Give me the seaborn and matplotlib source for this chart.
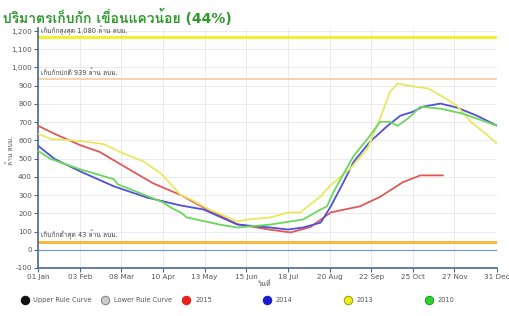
import matplotlib
matplotlib.use("Agg")
import matplotlib.pyplot as plt
from matplotlib import font_manager, ft2font
from matplotlib.lines import Line2D
from matplotlib.ticker import FuncFormatter
import seaborn as sns
import pandas as pd

sns.set_theme(style="white")

# find an installed family that has Thai glyphs
thai_family = None
for f in font_manager.fontManager.ttflist:
    try:
        if 0x0E1B in ft2font.FT2Font(f.fname).get_charmap():
            thai_family = f.name
            break
    except Exception:
        pass
families = ["DejaVu Sans"] + ([thai_family] if thai_family else [])
plt.rcParams["font.family"] = families

TITLE = "ปริมาตรเก็บกัก เขื่อนแควน้อย (44%)"
TICK_DAYS = [0, 33, 66, 99, 132, 165, 198, 231, 264, 297, 330, 364]
TICK_LABELS = ["01 Jan", "03 Feb", "08 Mar", "10 Apr", "13 May", "15 Jun",
               "18 Jul", "20 Aug", "22 Sep", "25 Oct", "27 Nov", "31 Dec"]

# reference levels (million m3)
MAX_LEVEL = 1170
NORMAL_LEVEL = 939
MIN_LEVEL = 43

days_2015 = [0, 13, 33, 49, 65, 91, 113, 131, 158, 184, 200, 216, 232, 255, 271, 289, 303, 321]
vals_2015 = [680, 636, 575, 536, 470, 365, 300, 232, 140, 110, 95, 125, 205, 238, 290, 370, 408, 408]

days_2014 = [0, 13, 33, 60, 86, 113, 131, 158, 184, 198, 210, 224, 232, 242, 250, 263, 277,
             287, 297, 305, 319, 332, 348, 364]
vals_2014 = [570, 498, 431, 348, 287, 243, 221, 138, 122, 111, 122, 149, 238, 370, 481, 592, 680,
             735, 757, 785, 802, 780, 735, 680]

days_2013 = [0, 10, 33, 52, 65, 83, 97, 103, 113, 121, 136, 158, 166, 184, 198, 208, 216, 224,
             232, 247, 261, 271, 279, 285, 297, 309, 319, 332, 343, 353, 364]
vals_2013 = [636, 608, 597, 580, 536, 486, 420, 376, 300, 276, 220, 155, 166, 177, 204, 205, 250, 293,
             355, 442, 553, 719, 868, 912, 896, 885, 846, 790, 702, 647, 580]

days_2010 = [0, 10, 33, 60, 63, 73, 99, 105, 113, 118, 144, 158, 184, 210, 224, 229, 234, 250,
             263, 271, 279, 285, 293, 303, 319, 337, 364]
vals_2010 = [542, 498, 442, 387, 359, 332, 260, 232, 204, 177, 138, 122, 138, 166, 221, 238, 315, 514,
             625, 702, 702, 680, 719, 785, 774, 746, 680]

SERIES = ["2015", "2014", "2013", "2010"]
COLORS = {"2015": "#e05858", "2014": "#5050d8", "2013": "#e8e860", "2010": "#6ad85a"}

frames = []
for name, d, v in [("2015", days_2015, vals_2015), ("2014", days_2014, vals_2014),
                   ("2013", days_2013, vals_2013), ("2010", days_2010, vals_2010)]:
    frames.append(pd.DataFrame({"day": d, "volume": v, "year": name}))
df = pd.concat(frames, ignore_index=True)

fig = plt.figure(figsize=(5.09, 3.16), dpi=100)
ax = fig.add_axes([0.075, 0.152, 0.902, 0.759])

# reference level lines
ax.axhline(MAX_LEVEL, color="#f2f020", lw=2.0, zorder=1)
ax.axhline(NORMAL_LEVEL, color="#f8c8a0", lw=1.2, zorder=1)
ax.axhline(MIN_LEVEL, color="#f5b840", lw=2.2, zorder=1)
ax.axhline(0, color="#7a9cc0", lw=0.9, zorder=1)

sns.lineplot(data=df, x="day", y="volume", hue="year", hue_order=SERIES, palette=COLORS,
             estimator=None, sort=True, lw=1.3, legend=False, ax=ax, zorder=3)

ax.text(2, MAX_LEVEL + 8, "เก็บกักสูงสุด 1,080 ล้าน ลบม.", fontsize=4.8, color="#444444", va="bottom")
ax.text(2, NORMAL_LEVEL + 12, "เก็บกักปกติ 939 ล้าน ลบม.", fontsize=4.8, color="#444444", va="bottom")
ax.text(2, MIN_LEVEL + 14, "เก็บกักต่ำสุด 43 ล้าน ลบม.", fontsize=4.8, color="#444444", va="bottom")

ax.set_xlim(0, 364)
ax.set_ylim(-100, 1216)
ax.set_xticks(TICK_DAYS)
ax.set_xticklabels(TICK_LABELS)
ax.set_yticks(range(-100, 1201, 100))
ax.yaxis.set_major_formatter(FuncFormatter(lambda v, p: f"{int(v):,}"))
ax.tick_params(axis="both", labelsize=5.2, labelcolor="#555555", length=3, width=0.8,
               color="#4a6a8a", direction="out", pad=1.5)
ax.tick_params(left=True, bottom=True)
ax.grid(True, color="#e8e8e8", lw=0.6)
for s in ["top", "right"]:
    ax.spines[s].set_visible(False)
for s in ["left", "bottom"]:
    ax.spines[s].set_color("#4a6a8a")
    ax.spines[s].set_linewidth(1.2)
ax.set_xlabel("")
ax.set_ylabel("")

fig.text(0.005, 0.945, TITLE, fontsize=10, fontweight="bold", color="#2e9a2e", va="center")
fig.text(0.02, 0.525, "ล้าน ลบม.", fontsize=4.8, color="#555555", rotation=90, va="center", ha="center")
fig.text(0.52, 0.104, "วันที่", fontsize=5.2, color="#555555", ha="center", va="center")

# legend, one slot per entry
LEGEND_LABELS = ["Upper Rule Curve", "Lower Rule Curve", "2015", "2014", "2013", "2010"]
LEGEND_FACES = ["#111111", "#cccccc", "#e82020", "#1a1ad0", "#f0f020", "#30d030"]
LEGEND_EDGES = ["#111111", "#888888", "#e82020", "#1a1ad0", "#a0a000", "#20a020"]
for i, (lab, fc, ec) in enumerate(zip(LEGEND_LABELS, LEGEND_FACES, LEGEND_EDGES)):
    h = Line2D([], [], marker="o", ls="", markersize=6, markerfacecolor=fc, markeredgecolor=ec,
               markeredgewidth=0.8)
    fig.legend([h], [lab], loc="center left", bbox_to_anchor=(0.043 + i * 0.159, 0.05),
               frameon=False, fontsize=4.8, handlelength=0.8, handletextpad=0.9,
               borderpad=0, borderaxespad=0, labelcolor="#555555")

fig.savefig("out.png", dpi=100)
